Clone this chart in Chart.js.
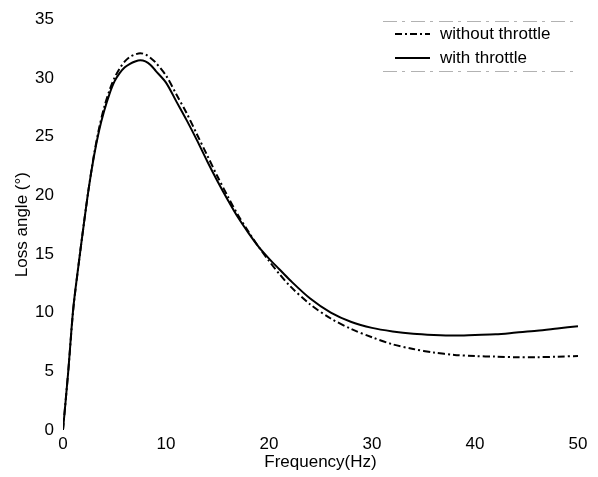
<!DOCTYPE html>
<html>
<head>
    <title>Loss angle vs frequency</title>
    <script src="https://cdn.jsdelivr.net/npm/chart.js"></script>
    <style>
        body { margin: 0; background: #fff; }
        canvas { display: block; }
    </style>
</head>
<body>
    <canvas id="chart" width="598" height="477"></canvas>
    <script>
        // Frequency (Hz)
        var freq = [0, 0.5, 1, 1.5, 2, 2.5, 3, 3.5, 4, 4.5, 5, 5.5, 6, 6.5, 7, 7.5, 8, 8.5, 9, 10,
            11, 12, 13, 14, 15, 16, 17, 18, 19, 20, 21, 22, 24, 26, 28, 30, 32, 34, 36, 38,
            40, 42, 44, 46, 48, 50];

        // Loss angle (deg)
        var withoutThrottle = [0, 4.9, 10.3, 14.0, 17.4, 20.6, 23.4, 25.7, 27.5, 28.9, 30.0, 30.8, 31.4, 31.8, 32.0, 32.1, 32.0, 31.7, 31.3, 30.2,
            28.6, 27.0, 25.2, 23.4, 21.6, 19.9, 18.3, 16.9, 15.6, 14.4, 13.3, 12.3, 10.7, 9.5, 8.6, 7.9, 7.3, 6.9, 6.6, 6.4,
            6.3, 6.25, 6.2, 6.2, 6.25, 6.3];
        var withThrottle = [0, 4.9, 10.4, 14.0, 17.4, 20.6, 23.3, 25.5, 27.2, 28.6, 29.7, 30.4, 30.9, 31.2, 31.4, 31.5, 31.4, 31.1, 30.6, 29.6,
            28.0, 26.4, 24.7, 22.9, 21.2, 19.6, 18.1, 16.8, 15.6, 14.6, 13.7, 12.8, 11.2, 10.0, 9.2, 8.7, 8.4, 8.2, 8.1, 8.05,
            8.1, 8.15, 8.3, 8.45, 8.65, 8.85];

        var seriesNames = ['without throttle', 'with throttle'];
        var dashDot = [7, 3, 2, 3];

        function toPoints(ys) {
            return freq.map(function (f, i) { return { x: f, y: ys[i] }; });
        }

        // simple legend box in the upper right, like the original figure
        var legendBox = {
            id: 'legendBox',
            afterDraw: function (chart) {
                var ctx = chart.ctx;
                ctx.save();
                ctx.strokeStyle = 'rgba(0,0,0,0.3)';
                ctx.lineWidth = 1;
                ctx.setLineDash([14, 5, 3, 6]);
                ctx.beginPath();
                ctx.moveTo(383, 21.5); ctx.lineTo(573, 21.5);
                ctx.moveTo(383, 71.5); ctx.lineTo(573, 71.5);
                ctx.stroke();

                ctx.strokeStyle = '#000';
                ctx.lineWidth = 2;
                ctx.setLineDash(dashDot);
                ctx.beginPath();
                ctx.moveTo(395, 34); ctx.lineTo(430, 34);
                ctx.stroke();
                ctx.setLineDash([]);
                ctx.beginPath();
                ctx.moveTo(395, 58); ctx.lineTo(430, 58);
                ctx.stroke();

                ctx.fillStyle = '#000';
                ctx.font = '17px "Liberation Sans", Arial, sans-serif';
                ctx.textBaseline = 'middle';
                ctx.fillText(seriesNames[0], 440, 34);
                ctx.fillText(seriesNames[1], 440, 58);
                ctx.restore();
            }
        };

        var ctx = document.getElementById('chart').getContext('2d');
        var chart = new Chart(ctx, {
            type: 'line',
            data: {
                datasets: [{
                    label: seriesNames[0],
                    data: toPoints(withoutThrottle),
                    borderColor: '#000',
                    borderWidth: 2,
                    borderDash: dashDot,
                    pointRadius: 0,
                    tension: 0.3,
                    fill: false
                }, {
                    label: seriesNames[1],
                    data: toPoints(withThrottle),
                    borderColor: '#000',
                    borderWidth: 2,
                    pointRadius: 0,
                    tension: 0.3,
                    fill: false
                }]
            },
            options: {
                responsive: false,
                animation: false,
                layout: {
                    padding: { left: 8, right: 20, top: 17, bottom: 0 }
                },
                plugins: {
                    legend: { display: false },
                    tooltip: { enabled: false }
                },
                scales: {
                    x: {
                        type: 'linear',
                        min: 0,
                        max: 50,
                        border: { display: false },
                        grid: { display: false, drawTicks: false },
                        ticks: {
                            stepSize: 10,
                            padding: 4,
                            color: '#000',
                            maxRotation: 0,
                            font: { size: 17, family: '"Liberation Sans", Arial, sans-serif' }
                        },
                        title: {
                            display: true,
                            text: 'Frequency(Hz)',
                            color: '#000',
                            font: { size: 17, family: '"Liberation Sans", Arial, sans-serif' }
                        },
                        afterFit: function (axis) { axis.height = 47; }
                    },
                    y: {
                        min: 0,
                        max: 35,
                        border: { display: false },
                        grid: { display: false, drawTicks: false },
                        ticks: {
                            stepSize: 5,
                            padding: 9,
                            color: '#000',
                            font: { size: 17, family: '"Liberation Sans", Arial, sans-serif' }
                        },
                        title: {
                            display: true,
                            text: 'Loss angle (°)',
                            color: '#000',
                            font: { size: 17, family: '"Liberation Sans", Arial, sans-serif' }
                        },
                        afterFit: function (axis) { axis.width = 55; }
                    }
                }
            },
            plugins: [legendBox]
        });
    </script>
</body>
</html>
